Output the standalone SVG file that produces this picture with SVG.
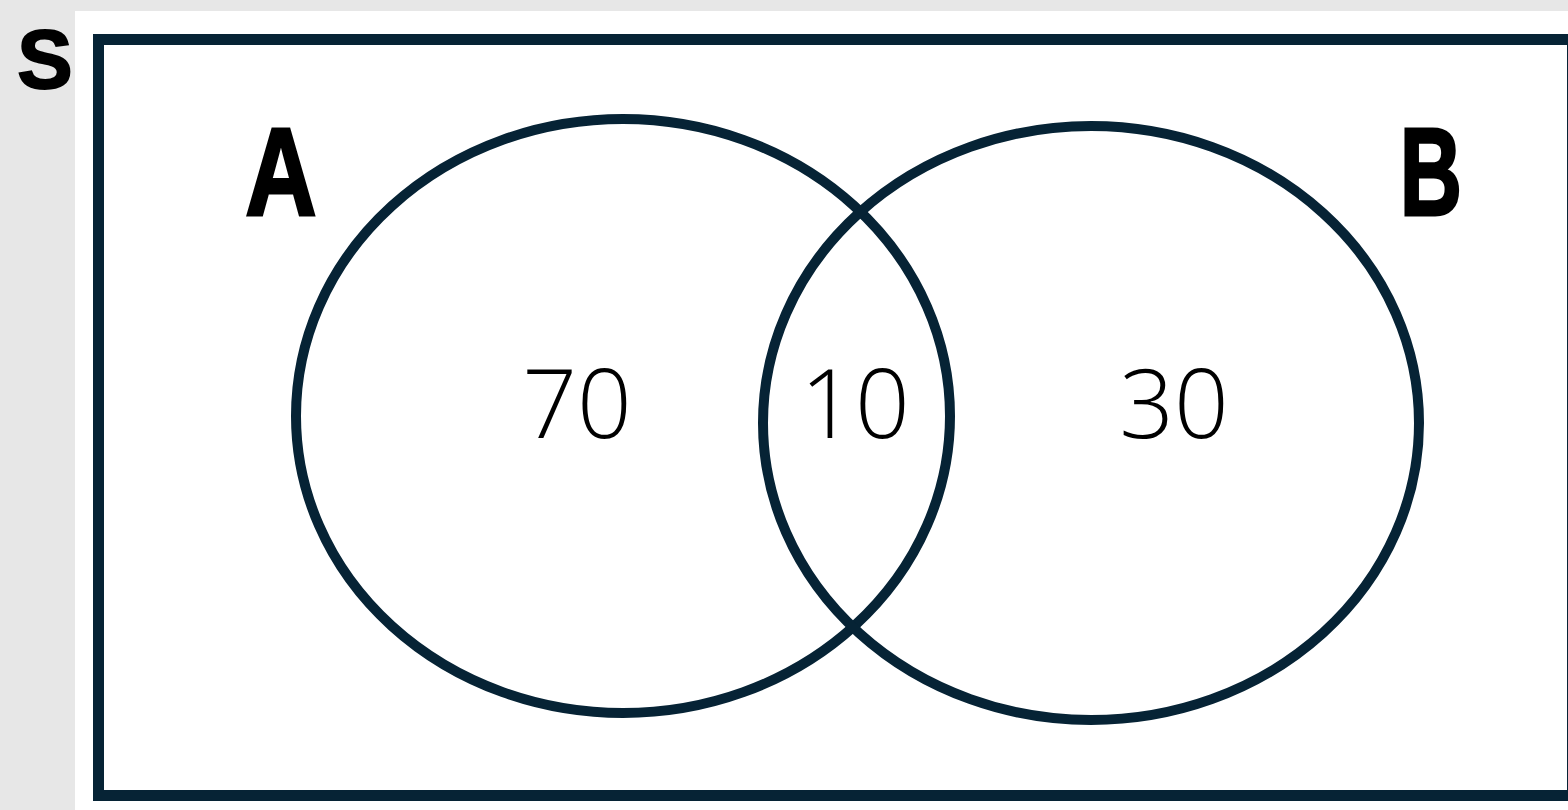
<svg xmlns="http://www.w3.org/2000/svg" width="1568" height="810" viewBox="0 0 1568 810">
<style>
.set{fill:none;stroke:#062335;stroke-width:10}
.lbl{font-family:"Liberation Sans",Arial,sans-serif;font-weight:700;fill:#000;text-anchor:middle}
.num{font-family:"Open Sans","Liberation Sans",sans-serif;font-weight:300;font-size:96px;fill:#000;text-anchor:middle}
</style>
<rect x="0" y="0" width="1568" height="810" fill="#e7e7e7"/>
<rect x="75" y="11" width="1493" height="799" fill="#fff"/>
<g id="universe">
<rect x="98.5" y="39.5" width="1474" height="756" fill="none" stroke="#062335" stroke-width="11"/>
<text class="lbl" x="45" y="88" font-size="83" stroke="#000" stroke-width="2">S</text>
</g>
<g id="setA">
<ellipse class="set" cx="623" cy="416" rx="327" ry="297"/>
<text class="lbl" x="281" y="215" font-size="125" stroke="#000" stroke-width="3" transform="translate(281 0) scale(0.79 1) translate(-281 0)">A</text>
</g>
<g id="setB">
<ellipse class="set" cx="1091" cy="423" rx="328" ry="297"/>
<text class="lbl" x="1431" y="215" font-size="125" stroke="#000" stroke-width="3" transform="translate(1431 0) scale(0.69 1) translate(-1431 0)">B</text>
</g>
<g id="regions">
<text class="num" x="577" y="438">70</text>
<text class="num" x="855" y="438">10</text>
<text class="num" x="1174" y="438">30</text>
</g>
<g id="connectors"></g>
</svg>
